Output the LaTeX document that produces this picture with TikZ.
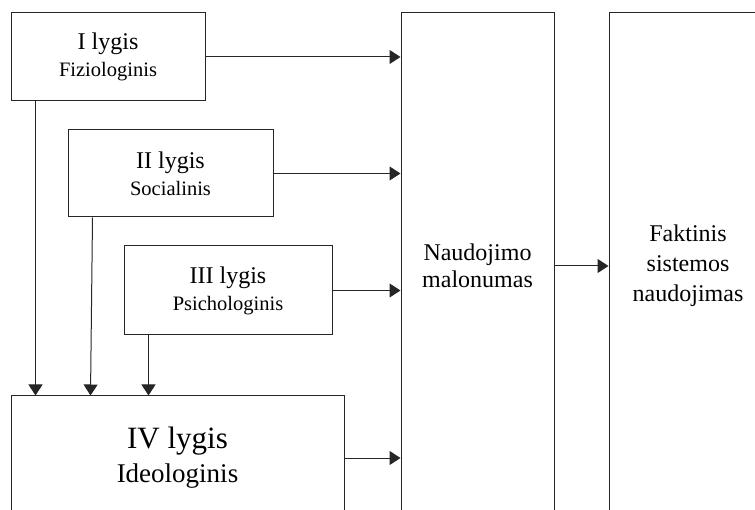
\documentclass[tikz,border=0pt]{standalone}
\usepackage{fontspec}
\setmainfont{Liberation Serif}
\usetikzlibrary{arrows.meta}
\begin{document}
\begin{tikzpicture}[x=1pt,y=-1pt,
  box/.style={draw=black!85, line width=1pt, rectangle, inner sep=0pt, align=center, text=black},
  conn/.style={line width=1pt, draw=black!85, -{Triangle[length=11pt,width=14pt]}},
  big/.style={font=\fontsize{24}{27}\selectfont},
  huge/.style={font=\fontsize{31}{34}\selectfont}]
\useasboundingbox (0,0) rectangle (755,510);
\begin{scope}
\clip (0,0) rectangle (755,510);
\node[box,big,minimum width=194pt,minimum height=88pt] (l1) at (108,57) {I lygis\\{\fontsize{20.5}{27}\selectfont Fiziologinis}};
\node[box,big,minimum width=205pt,minimum height=87pt] (l2) at (170.5,173.5) {II lygis\\{\fontsize{20.5}{27}\selectfont Socialinis}};
\node[box,big,minimum width=208pt,minimum height=89pt] (l3) at (228,290.5) {III lygis\\{\fontsize{20.5}{27}\selectfont Psichologinis}};
\node[box,huge,minimum width=333pt,minimum height=124pt] (l4) at (177.5,458) {IV lygis\\{\fontsize{27}{34}\selectfont Ideologinis}};
\node[box,big,minimum width=153pt,minimum height=506pt] (nm) at (477.5,266) {Naudojimo\\malonumas};
\node[box,big,minimum width=158pt,minimum height=506pt,font=\fontsize{24}{30}\selectfont] (fs) at (688,266) {Faktinis\\sistemos\\naudojimas};
\draw[conn] (l1.east) -- (l1.east -| nm.west);
\draw[conn] (l2.east) -- (l2.east -| nm.west);
\draw[conn] (l3.east) -- (l3.east -| nm.west);
\draw[conn] (l4.east) -- (l4.east -| nm.west);
\draw[conn] (nm.east) -- (nm.east -| fs.west);
\draw[conn] ([xshift=25pt]l1.south west) -- ([xshift=25pt]l1.south west |- l4.north);
\draw[conn] ([xshift=25pt]l2.south west) -- ([xshift=23pt]l2.south west |- l4.north);
\draw[conn] ([xshift=25pt]l3.south west) -- ([xshift=25pt]l3.south west |- l4.north);
\end{scope}
\end{tikzpicture}
\end{document}
